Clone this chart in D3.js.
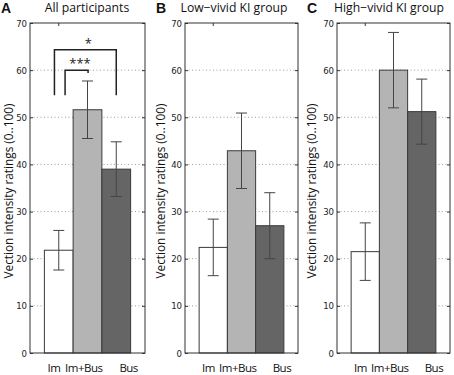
<!DOCTYPE html>
<html>
<head>
<meta charset="utf-8">
<script src="https://cdn.jsdelivr.net/npm/d3@7"></script>
<style>
  body { margin: 0; background: #fff; }
  svg { display: block; }
</style>
</head>
<body>
<div id="chart"></div>
<script>
// values (mean and half-width of error bar)
const categories = ["Im", "Im+Bus", "Bus"];
const panelLetters = ["A", "B", "C"];
const panelTitles = ["All participants", "Low\u2212vivid KI group", "High\u2212vivid KI group"];
const meansAll = [21.8, 51.6, 39.0];
const errAll = [4.2, 6.1, 5.8];
const meansLow = [22.4, 42.9, 27.0];
const errLow = [6.0, 8.0, 7.0];
const meansHigh = [21.5, 60.0, 51.2];
const errHigh = [6.1, 8.0, 6.9];
const yTicks = [0, 10, 20, 30, 40, 50, 60, 70];
const barColors = ["#ffffff", "#b4b4b4", "#656565"];
// significance brackets for panel A: [x-left, x-right, top, left-leg end, right-leg end]
const sigLabels = ["***", "*"];
const sigBrackets = [[1.22, 2.02, 60.0, 54.7, 59.4], [0.85, 3.0, 64.3, 54.7, 54.7]];

const width = 454, height = 375;
const plotTop = 23, plotBottom = 353;
const panels = [
  {left: 30, right: 145, means: meansAll, err: errAll, labelX: 12.5, titleX: 87},
  {left: 185, right: 298, means: meansLow, err: errLow, labelX: 165, titleX: 234},
  {left: 337, right: 450, means: meansHigh, err: errHigh, labelX: 316, titleX: 389}
];
const font = "'Open Sans', 'Noto Sans', sans-serif";

const svg = d3.select("#chart").append("svg")
    .attr("width", width)
    .attr("height", height)
    .attr("viewBox", [0, 0, width, height]);

const y = d3.scaleLinear().domain([0, 70]).range([plotBottom, plotTop]);

panels.forEach((p, k) => {
  const x = d3.scaleLinear().domain([0, 4]).range([p.left, p.right]);
  const g = svg.append("g");

  // dotted grid
  g.selectAll(".grid")
    .data(yTicks.filter(t => t > 0 && t < 70))
    .join("line")
      .attr("x1", p.left).attr("x2", p.right)
      .attr("y1", d => y(d)).attr("y2", d => y(d))
      .attr("stroke", "#9a9a9a")
      .attr("stroke-width", 1)
      .attr("stroke-dasharray", "1,2.5");

  // bars
  g.selectAll(".bar")
    .data(p.means)
    .join("rect")
      .attr("x", (d, i) => x(i + 0.5))
      .attr("width", (d, i) => x(i + 1.5) - x(i + 0.5))
      .attr("y", d => y(d))
      .attr("height", d => y(0) - y(d))
      .attr("fill", (d, i) => barColors[i])
      .attr("stroke", "#3a3a3a")
      .attr("stroke-width", 1);

  // error bars
  const eb = g.selectAll(".err")
    .data(p.means.map((m, i) => ({i, lo: m - p.err[i], hi: m + p.err[i]})))
    .join("g")
      .attr("stroke", "#444")
      .attr("stroke-width", 1);
  eb.append("line")
      .attr("x1", d => x(d.i + 1)).attr("x2", d => x(d.i + 1))
      .attr("y1", d => y(d.lo)).attr("y2", d => y(d.hi));
  eb.append("line")
      .attr("x1", d => x(d.i + 1) - 5.5).attr("x2", d => x(d.i + 1) + 5.5)
      .attr("y1", d => y(d.lo)).attr("y2", d => y(d.lo));
  eb.append("line")
      .attr("x1", d => x(d.i + 1) - 5.5).attr("x2", d => x(d.i + 1) + 5.5)
      .attr("y1", d => y(d.hi)).attr("y2", d => y(d.hi));

  // y axis (left) and inward ticks on both sides
  g.append("g")
      .attr("transform", `translate(${p.left},0)`)
      .call(d3.axisLeft(y).tickValues(yTicks).tickSize(-3).tickPadding(3))
      .call(a => a.select(".domain").remove())
      .call(a => a.selectAll(".tick line").attr("stroke", "#333"))
      .call(a => a.selectAll(".tick text")
          .attr("font-family", "'Liberation Sans Narrow', 'DejaVu Sans Condensed', sans-serif")
          .attr("font-size", 9.5)
          .attr("fill", "#222"));
  g.append("g")
      .attr("transform", `translate(${p.right},0)`)
      .call(d3.axisRight(y).tickValues(yTicks).tickSize(-3).tickFormat(""))
      .call(a => a.select(".domain").remove())
      .call(a => a.selectAll(".tick line").attr("stroke", "#333"));

  // top tick
  g.append("line")
      .attr("x1", x(1)).attr("x2", x(1))
      .attr("y1", plotTop).attr("y2", plotTop + 3)
      .attr("stroke", "#333");

  // frame
  g.append("rect")
      .attr("x", p.left).attr("y", plotTop)
      .attr("width", p.right - p.left).attr("height", plotBottom - plotTop)
      .attr("fill", "none")
      .attr("stroke", "#333")
      .attr("stroke-width", 1);

  // category labels
  const shift = [-0.17, -0.13, 0.43];
  g.selectAll(".cat")
    .data(categories)
    .join("text")
      .attr("x", (d, i) => x(i + 1 + shift[i]))
      .attr("y", 372)
      .attr("text-anchor", "middle")
      .attr("font-family", font)
      .attr("font-size", 11.5)
      .attr("letter-spacing", -0.5)
      .attr("fill", "#111")
      .text(d => d);

  // y label
  g.append("text")
      .attr("transform", `translate(${p.labelX},${(plotTop + plotBottom) / 2 + 3}) rotate(-90)`)
      .attr("text-anchor", "middle")
      .attr("font-family", font)
      .attr("font-size", 11.8)
      .attr("fill", "#111")
      .text("Vection intensity ratings (0..100)");

  // title and letter
  g.append("text")
      .attr("x", p.titleX).attr("y", 12)
      .attr("text-anchor", "middle")
      .attr("font-family", font)
      .attr("font-size", 12.2)
      .attr("fill", "#111")
      .text(panelTitles[k]);
  g.append("text")
      .attr("x", [1, 156, 307][k]).attr("y", 13)
      .attr("font-family", "'Liberation Sans', Arial, sans-serif")
      .attr("font-weight", "bold")
      .attr("font-size", 14)
      .attr("fill", "#111")
      .text(panelLetters[k]);

  if (k === 0) {
    sigBrackets.forEach((b, j) => {
      g.append("path")
          .attr("d", `M${x(b[0])},${y(b[3])}V${y(b[2])}H${x(b[1])}V${y(b[4])}`)
          .attr("fill", "none")
          .attr("stroke", "#222")
          .attr("stroke-width", 1.5);
      g.append("text")
          .attr("x", j === 0 ? x(1.74) : x(2.03))
          .attr("y", y(b[2]) - 2)
          .attr("text-anchor", "middle")
          .attr("font-family", font)
          .attr("font-size", 13)
          .attr("fill", "#222")
          .text(sigLabels[j]);
    });
  }
});
</script>
</body>
</html>
